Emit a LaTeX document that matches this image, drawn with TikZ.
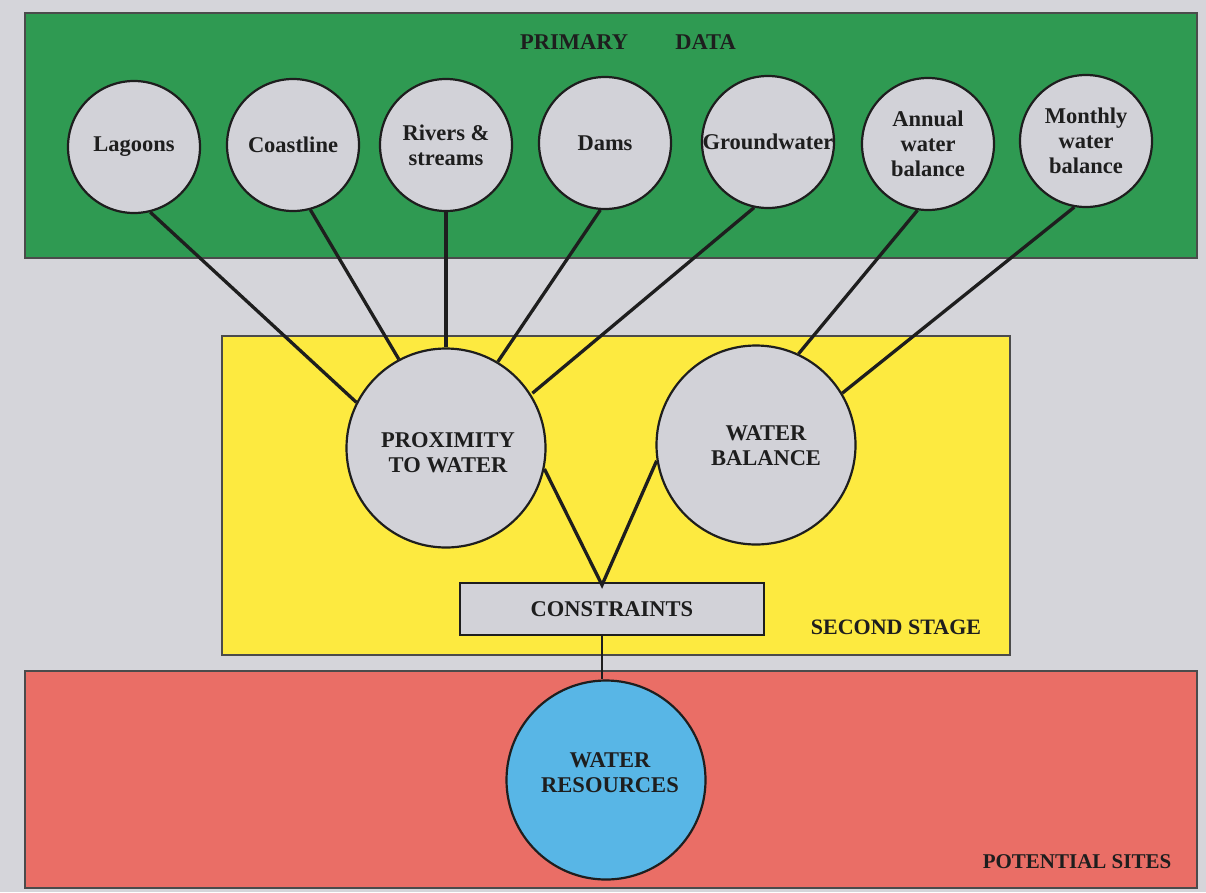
\documentclass[tikz,border=0pt]{standalone}
\usepackage{fontspec}
\setmainfont{Liberation Serif}
\usetikzlibrary{calc}
\definecolor{bggray}{HTML}{D5D5DA}
\definecolor{datagreen}{HTML}{2F9A52}
\definecolor{stageyellow}{HTML}{FDEA40}
\definecolor{siteered}{HTML}{EA6E66}
\definecolor{waterblue}{HTML}{58B6E6}
\definecolor{circgray}{HTML}{D2D2D8}
\definecolor{inkdark}{HTML}{1E1E1E}
\begin{document}
\begin{tikzpicture}[x=1pt,y=-1pt,
  lbl/.style={font=\bfseries\fontsize{22.5}{25}\selectfont, align=center, text=inkdark, inner sep=0pt},
  src/.style={circle, draw=inkdark, line width=2.2pt, fill=circgray, minimum size=132pt, inner sep=0pt, lbl},
  big/.style={circle, draw=inkdark, line width=2.2pt, fill=circgray, minimum size=199pt, inner sep=0pt},
  link/.style={draw=inkdark, line width=3.3pt},
  panel/.style={draw=inkdark!80, line width=1.8pt}]

% canvas
\useasboundingbox (0,0) rectangle (1206,892);
\fill[bggray] (0,0) rectangle (1206,892);

% three stage panels
\filldraw[panel, fill=datagreen]   (25,13)  rectangle (1197,258);
\filldraw[panel, fill=stageyellow] (222,336) rectangle (1010,655);
\filldraw[panel, fill=siteered]    (25,671) rectangle (1197,888);

% panel titles
\node[lbl] (ttlprimary) at (628,42) {PRIMARY\hspace{2.1em}DATA};
\node[lbl, font=\bfseries\fontsize{22}{24}\selectfont] (ttlsecond) at (896,627) {SECOND STAGE};
\node[lbl, font=\bfseries\fontsize{21}{24}\selectfont] (ttlsites) at (1077,862) {POTENTIAL SITES};

% primary data sources
\node[src] (lag) at (134,147) {Lagoons};
\node[src] (coast) at (293,145) {Coastline};
\node[src] (riv) at (446,145) {Rivers \&\\streams};
\node[src] (dam) at (605,143) {Dams};
\node[src] (gw) at (768,142) {Groundwater};
\node[src] (annual) at (928,144) {Annual\\water\\balance};
\node[src] (monthly) at (1086,141) {Monthly\\water\\balance};

% second stage themes
\node[big] (prox) at (446,448) {};
\node[lbl] (proxtxt) at (448,453) {PROXIMITY\\TO WATER};
\node[big] (wb) at (756,445) {};
\node[lbl] (wbtxt) at (766,446) {WATER\\BALANCE};

\node[draw=inkdark, line width=1.8pt, fill=circgray, minimum width=304pt, minimum height=52pt,
      inner sep=0pt, lbl] (cons) at (612,609) {CONSTRAINTS};
\coordinate (apex) at (602,585);

% result
\node[big, fill=waterblue] (wr) at (606,780) {};
\node[lbl] (wrtxt) at (610,773) {WATER\\RESOURCES};

% connectors
\draw[link] (lag.-76) -- (prox.153);
\draw[link] (coast.-75) -- (prox.118);
\draw[link] (riv.-90) -- (prox.90);
\draw[link] (dam.-94) -- (prox.59);
\draw[link] (gw.-102) -- ($(prox.33)+(2,0)$);
\draw[link] (annual.-99) -- (wb.65);
\draw[link] (monthly.-100) -- (wb.31);
\draw[link] (prox.-12) -- (apex) -- (wb.-171);
\draw[link, line width=2.6pt] (cons.south -| apex) -- (wr.north -| apex);
\end{tikzpicture}
\end{document}
